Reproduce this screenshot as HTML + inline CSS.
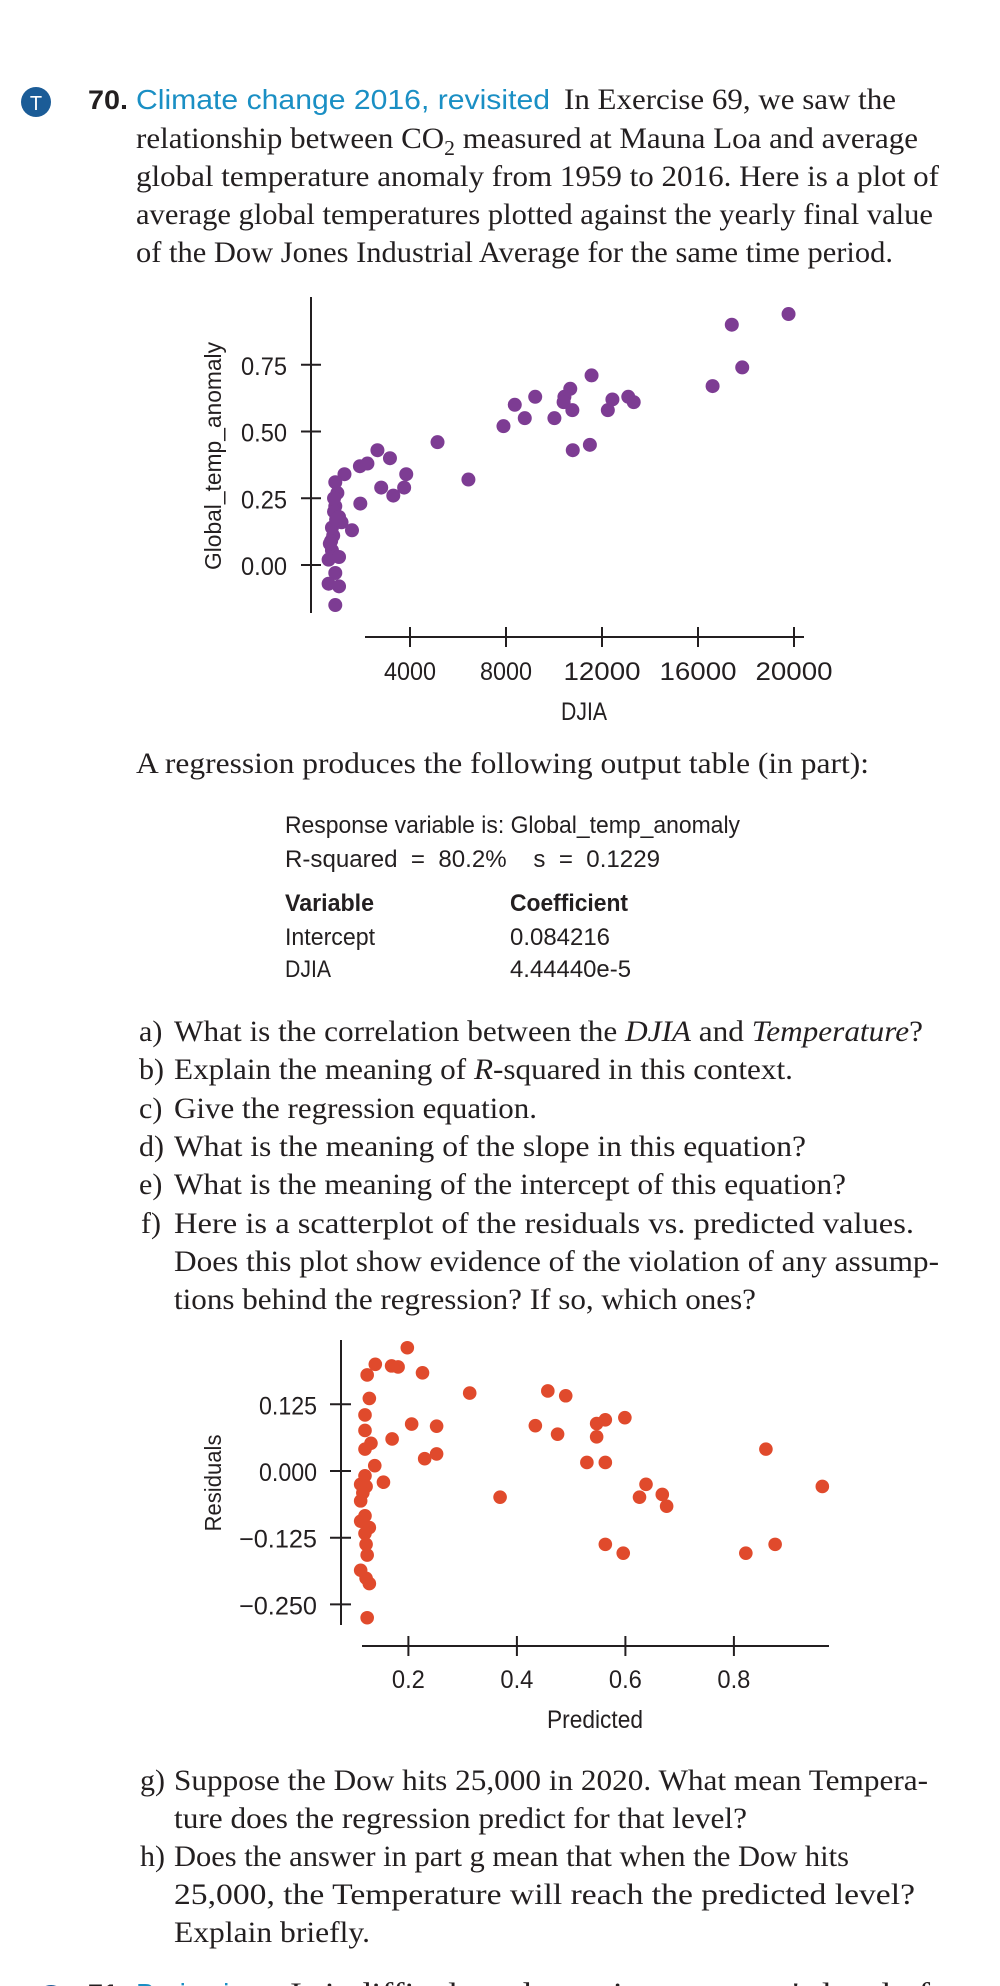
<!DOCTYPE html>
<html><head><meta charset="utf-8">
<style>
html,body{margin:0;padding:0;background:#fff;}
svg{display:block;}
.serif{font-family:"Liberation Serif",serif;font-size:30px;fill:#231f20;}
.sans{font-family:"Liberation Sans",sans-serif;fill:#231f20;}
</style></head>
<body>
<svg id="page" width="1000" height="1986" viewBox="0 0 1000 1986" xmlns="http://www.w3.org/2000/svg">
<rect width="1000" height="1986" fill="#fff"/>
<g>
<circle cx="36" cy="102" r="15" fill="#1b5c97"/>
<text x="36" y="110" text-anchor="middle" class="sans" style="fill:#fff;font-size:20px">T</text>
<text x="88" y="109" class="sans" style="font-size:27px;font-weight:bold" textLength="40" lengthAdjust="spacingAndGlyphs">70.</text>
<text x="136" y="109" class="sans" style="font-size:28px;fill:#1a8fc4" textLength="414" lengthAdjust="spacingAndGlyphs">Climate change 2016, revisited</text>
<text x="564" y="109" class="serif" textLength="332" lengthAdjust="spacingAndGlyphs">In Exercise 69, we saw the</text>
<text x="136" y="148" class="serif" textLength="782" lengthAdjust="spacingAndGlyphs">relationship between CO<tspan dy="7" style="font-size:21px">2</tspan><tspan dy="-7"> measured at Mauna Loa and average</tspan></text>
<text x="136" y="186" class="serif" textLength="803" lengthAdjust="spacingAndGlyphs">global temperature anomaly from 1959 to 2016. Here is a plot of</text>
<text x="136" y="224" class="serif" textLength="797" lengthAdjust="spacingAndGlyphs">average global temperatures plotted against the yearly final value</text>
<text x="136" y="262" class="serif" textLength="757" lengthAdjust="spacingAndGlyphs">of the Dow Jones Industrial Average for the same time period.</text>
</g>

<g id="plot1">
<line x1="311" y1="297" x2="311" y2="613" stroke="#231f20" stroke-width="2"/>
<line x1="365" y1="637" x2="804" y2="637" stroke="#231f20" stroke-width="2"/>
<text transform="translate(221,456) rotate(-90)" text-anchor="middle" class="sans" style="font-size:23px" textLength="228" lengthAdjust="spacingAndGlyphs">Global_temp_anomaly</text>
<text x="584" y="720" text-anchor="middle" class="sans" style="font-size:25px" textLength="46" lengthAdjust="spacingAndGlyphs">DJIA</text>
<g id="p1ticks"></g>
<g id="p1dots"></g>
</g>

<g>
<text x="136" y="773" class="serif" textLength="733" lengthAdjust="spacingAndGlyphs">A regression produces the following output table (in part):</text>
<text x="285" y="833" class="sans" style="font-size:24px" textLength="455" lengthAdjust="spacingAndGlyphs">Response variable is: Global_temp_anomaly</text>
<text x="285" y="867" class="sans" style="font-size:24px" textLength="375" lengthAdjust="spacingAndGlyphs" xml:space="preserve">R-squared  =  80.2%    s  =  0.1229</text>
<text x="285" y="911" class="sans" style="font-size:24px;font-weight:bold" textLength="89" lengthAdjust="spacingAndGlyphs">Variable</text>
<text x="510" y="911" class="sans" style="font-size:24px;font-weight:bold" textLength="118" lengthAdjust="spacingAndGlyphs">Coefficient</text>
<text x="285" y="945" class="sans" style="font-size:24px" textLength="90" lengthAdjust="spacingAndGlyphs">Intercept</text>
<text x="510" y="945" class="sans" style="font-size:24px" textLength="100" lengthAdjust="spacingAndGlyphs">0.084216</text>
<text x="285" y="977" class="sans" style="font-size:24px" textLength="46" lengthAdjust="spacingAndGlyphs">DJIA</text>
<text x="510" y="977" class="sans" style="font-size:24px" textLength="121" lengthAdjust="spacingAndGlyphs">4.44440e-5</text>
</g>

<g>
<text x="139" y="1041" class="serif">a)</text>
<text x="174" y="1041" class="serif" textLength="749" lengthAdjust="spacingAndGlyphs">What is the correlation between the <tspan font-style="italic">DJIA</tspan> and <tspan font-style="italic">Temperature</tspan>?</text>
<text x="139" y="1079" class="serif">b)</text>
<text x="174" y="1079" class="serif" textLength="619" lengthAdjust="spacingAndGlyphs">Explain the meaning of <tspan font-style="italic">R</tspan>-squared in this context.</text>
<text x="139" y="1118" class="serif">c)</text>
<text x="174" y="1118" class="serif" textLength="363" lengthAdjust="spacingAndGlyphs">Give the regression equation.</text>
<text x="139" y="1156" class="serif">d)</text>
<text x="174" y="1156" class="serif" textLength="632" lengthAdjust="spacingAndGlyphs">What is the meaning of the slope in this equation?</text>
<text x="139" y="1194" class="serif">e)</text>
<text x="174" y="1194" class="serif" textLength="672" lengthAdjust="spacingAndGlyphs">What is the meaning of the intercept of this equation?</text>
<text x="141" y="1233" class="serif">f)</text>
<text x="174" y="1233" class="serif" textLength="740" lengthAdjust="spacingAndGlyphs">Here is a scatterplot of the residuals vs. predicted values.</text>
<text x="174" y="1271" class="serif" textLength="765" lengthAdjust="spacingAndGlyphs">Does this plot show evidence of the violation of any assump-</text>
<text x="174" y="1309" class="serif" textLength="582" lengthAdjust="spacingAndGlyphs">tions behind the regression? If so, which ones?</text>
</g>

<g id="plot2">
<line x1="341" y1="1340" x2="341" y2="1625" stroke="#231f20" stroke-width="2"/>
<line x1="362" y1="1646" x2="829" y2="1646" stroke="#231f20" stroke-width="2"/>
<text transform="translate(221,1483) rotate(-90)" text-anchor="middle" class="sans" style="font-size:23px" textLength="97" lengthAdjust="spacingAndGlyphs">Residuals</text>
<text x="595" y="1728" text-anchor="middle" class="sans" style="font-size:25px" textLength="96" lengthAdjust="spacingAndGlyphs">Predicted</text>
<g id="p2ticks"></g>
<g id="p2dots"></g>
</g>

<g>
<text x="140" y="1790" class="serif">g)</text>
<text x="174" y="1790" class="serif" textLength="754" lengthAdjust="spacingAndGlyphs">Suppose the Dow hits 25,000 in 2020. What mean Tempera-</text>
<text x="174" y="1828" class="serif" textLength="573" lengthAdjust="spacingAndGlyphs">ture does the regression predict for that level?</text>
<text x="140" y="1866" class="serif">h)</text>
<text x="174" y="1866" class="serif" textLength="675" lengthAdjust="spacingAndGlyphs">Does the answer in part g mean that when the Dow hits</text>
<text x="174" y="1904" class="serif" textLength="741" lengthAdjust="spacingAndGlyphs">25,000, the Temperature will reach the predicted level?</text>
<text x="174" y="1942" class="serif" textLength="196" lengthAdjust="spacingAndGlyphs">Explain briefly.</text>
</g>
<g>
<circle cx="51" cy="2000" r="15" fill="#1b5c97"/>
<text x="88" y="2003" class="sans" style="font-size:27px;font-weight:bold">71.</text>
<text x="136" y="2003" class="sans" style="font-size:28px;fill:#1a8fc4">Brain size</text>
<text x="290" y="2003" class="serif" textLength="640" lengthAdjust="spacingAndGlyphs">Is it difficult to determine someone's level of</text>
</g>
</svg>
<script>
// ---------- Plot 1 data ----------
const djia = [19773,17408,17843,16608,11565,10678,10434,10400,10765,10017,9217,8365,8782,7895,10782,11495,12243,12434,13095,13321,5147,6434,2643,3165,3843,3756,2800,3304,1913,2226,1930,1270,1583,887,974,887,835,1043,1148,748,800,713,748,609,1043,887,609,1043,887,922,835,660];
const tempAnomaly = [0.94,0.90,0.74,0.67,0.71,0.66,0.63,0.61,0.58,0.55,0.63,0.60,0.55,0.52,0.43,0.45,0.58,0.62,0.63,0.61,0.46,0.32,0.43,0.40,0.34,0.29,0.29,0.26,0.37,0.38,0.23,0.34,0.13,0.31,0.27,0.22,0.20,0.18,0.16,0.14,0.11,0.09,0.055,0.02,0.03,-0.03,-0.07,-0.08,-0.15,0.17,0.25,0.08];
const xTicks1 = [4000,8000,12000,16000,20000];
const yTicks1 = [0.00,0.25,0.50,0.75];
const yTickLabels1 = ["0.00","0.25","0.50","0.75"];
// ---------- Plot 2 data ----------
const predicted = [0.198,0.139,0.169,0.181,0.226,0.124,0.313,0.457,0.49,0.128,0.120,0.120,0.131,0.120,0.206,0.252,0.170,0.230,0.252,0.138,0.154,0.434,0.475,0.547,0.563,0.547,0.599,0.529,0.563,0.369,0.638,0.626,0.668,0.676,0.859,0.963,0.563,0.596,0.822,0.876,0.120,0.112,0.122,0.116,0.112,0.120,0.112,0.128,0.120,0.122,0.124,0.112,0.122,0.128,0.124];
const residuals = [0.231,0.20,0.197,0.195,0.184,0.18,0.146,0.150,0.141,0.136,0.105,0.076,0.052,0.041,0.088,0.084,0.060,0.023,0.032,0.010,-0.021,0.085,0.069,0.089,0.096,0.064,0.100,0.016,0.016,-0.049,-0.025,-0.049,-0.044,-0.066,0.041,-0.029,-0.1375,-0.154,-0.154,-0.1375,-0.009,-0.025,-0.029,-0.041,-0.056,-0.084,-0.094,-0.106,-0.117,-0.1375,-0.1575,-0.186,-0.201,-0.211,-0.275];
const xTicks2 = [0.2,0.4,0.6,0.8];
const xTickLabels2 = ["0.2","0.4","0.6","0.8"];
const yTicks2 = [0.125,0,-0.125,-0.25];
const yTickLabels2 = ["0.125","0.000","\u22120.125","\u22120.250"];

const NS = "http://www.w3.org/2000/svg";
function mk(tag, attrs, parent){const e=document.createElementNS(NS,tag);for(const k in attrs)e.setAttribute(k,attrs[k]);parent.appendChild(e);return e;}

const x1 = d => 314 + d*0.024;
const y1 = t => 565 - t*267;
const x2 = p => 408.4 + (p-0.2)*542.5;
const y2 = r => 1471 - r*533.6;

const t1 = document.getElementById('p1ticks');
xTicks1.forEach((v)=>{
  const l = mk('line',{x1:x1(v),x2:x1(v),y1:627,y2:647,stroke:'#231f20','stroke-width':2},t1);
  
  
  const s = String(v);
  const tx = mk('text',{x:x1(v),y:680,'text-anchor':'middle',class:'sans',style:'font-size:25px',textLength:(s.length*13+(s.length>4?12:0)),lengthAdjust:'spacingAndGlyphs'},t1);
  tx.textContent = s;
  
  
});
yTicks1.forEach((v,i)=>{
  const l = mk('line',{x1:301,x2:321,y1:y1(v),y2:y1(v),stroke:'#231f20','stroke-width':2},t1);
  
  
  const tx = mk('text',{x:287,y:y1(v)+10,'text-anchor':'end',class:'sans',style:'font-size:25px',textLength:46,lengthAdjust:'spacingAndGlyphs'},t1);
  tx.textContent = yTickLabels1[i];
  
  
});
const d1 = document.getElementById('p1dots');
djia.forEach((d,i)=>{
  const c = mk('circle',{cx:x1(d),cy:y1(tempAnomaly[i]),r:7,fill:'#7d3c93'},d1);
  
  
});

const t2 = document.getElementById('p2ticks');
xTicks2.forEach((v,i)=>{
  const l = mk('line',{x1:x2(v),x2:x2(v),y1:1636,y2:1656,stroke:'#231f20','stroke-width':2},t2);
  
  
  const tx = mk('text',{x:x2(v),y:1688,'text-anchor':'middle',class:'sans',style:'font-size:25px',textLength:33,lengthAdjust:'spacingAndGlyphs'},t2);
  tx.textContent = xTickLabels2[i];
  
  
});
yTicks2.forEach((v,i)=>{
  const l = mk('line',{x1:330,x2:351,y1:y2(v),y2:y2(v),stroke:'#231f20','stroke-width':2},t2);
  
  
  const lab = yTickLabels2[i];
  const tx = mk('text',{x:317,y:y2(v)+10,'text-anchor':'end',class:'sans',style:'font-size:25px',textLength:(lab.length>5?78:58),lengthAdjust:'spacingAndGlyphs'},t2);
  tx.textContent = lab;
  
  
});
const d2 = document.getElementById('p2dots');
predicted.forEach((p,i)=>{
  const c = mk('circle',{cx:x2(p),cy:y2(residuals[i]),r:6.8,fill:'#e04a2c'},d2);
  
  
});
</script>
</body></html>
